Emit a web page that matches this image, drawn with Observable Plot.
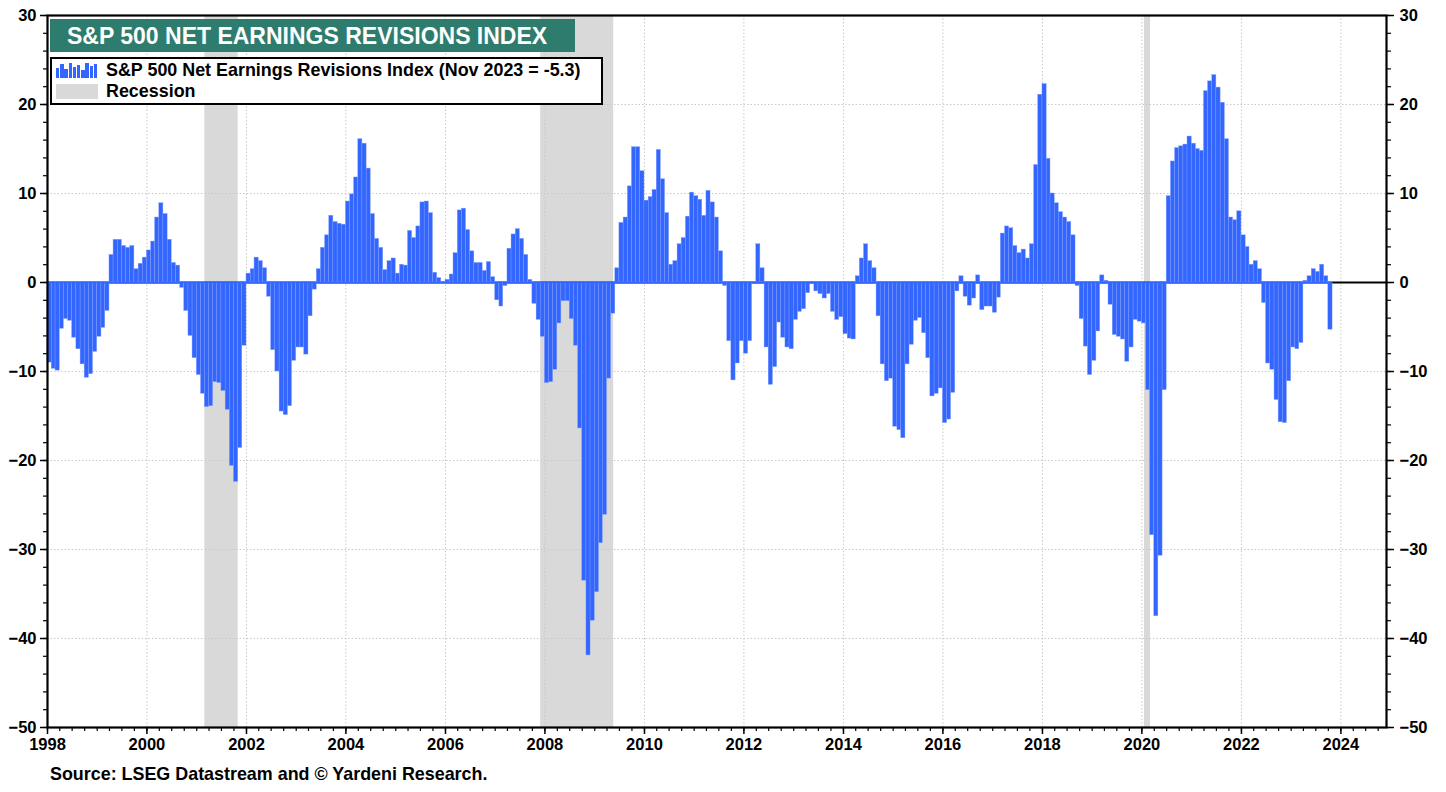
<!DOCTYPE html>
<html>
<head>
<meta charset="utf-8">
<script src="https://cdn.jsdelivr.net/npm/d3@7"></script>
<script src="https://cdn.jsdelivr.net/npm/@observablehq/plot@0.6"></script>
<style>
  body { margin: 0; background: #fff; font-family: "Liberation Sans", Arial, sans-serif; }
  #wrap { position: relative; width: 1446px; height: 792px; overflow: hidden; }
  #title { position: absolute; left: 50px; top: 19px; width: 525px; height: 33px; background: #2e7c6d;
           color: #fff; font-weight: bold; font-size: 23px; line-height: 34px; padding-left: 17px; box-sizing: border-box; white-space: nowrap; }
  #legend { position: absolute; left: 50px; top: 57px; width: 553px; height: 48px; border: 2px solid #000;
            background: #fff; box-sizing: border-box; font-weight: bold; font-size: 17.9px; color: #000; }
  .lrow { position: absolute; left: 4px; height: 20px; display: flex; align-items: center; white-space: nowrap; }
  .icon { width: 42px; height: 15px; margin-right: 8px; position: relative; }
  #source { position: absolute; left: 50px; top: 764px; font-weight: bold; font-size: 17.9px; color: #000; white-space: nowrap; }
</style>
</head>
<body>
<div id="wrap">
  <div id="chart"></div>
  <div id="title"></div>
  <div id="legend">
    <div class="lrow" style="top:1px"><div class="icon" id="baricon"></div><span id="lab1"></span></div>
    <div class="lrow" style="top:22px"><div class="icon" style="background:#d9d9d9"></div><span id="lab2"></span></div>
  </div>
  <div id="source"></div>
</div>
<script>
// ---- Data: S&P 500 Net Earnings Revisions Index, monthly bars (Jan..Dec) ----
const v1998 = [-9.0,-9.7,-9.9,-5.2,-4.1,-4.3,-6.2,-7.5,-9.2,-10.7,-10.3,-7.8];
const v1999 = [-6.1,-5.1,-3.2,3.1,4.8,4.8,4.1,3.9,4.1,1.5,2.1,2.8];
const v2000 = [3.6,4.6,7.3,8.9,7.7,4.8,2.2,1.9,-0.6,-3.2,-6.0,-8.5];
const v2001 = [-10.4,-12.5,-14.0,-13.9,-11.2,-11.3,-12.2,-14.3,-20.6,-22.4,-18.6,-7.1];
const v2002 = [1.0,1.5,2.8,2.4,1.6,-1.6,-7.6,-10.0,-14.5,-14.9,-13.9,-8.8];
const v2003 = [-7.3,-7.3,-8.1,-3.8,-0.8,1.5,3.9,5.3,7.5,6.8,6.6,6.5];
const v2004 = [9.1,9.9,11.8,16.1,15.6,12.8,7.7,4.9,3.9,1.4,2.4,2.7];
const v2005 = [1.0,2.0,1.9,5.8,5.0,6.3,9.0,9.1,7.8,1.1,0.5,-0.2];
const v2006 = [0.3,0.9,3.3,8.1,8.3,5.9,3.5,2.2,2.2,1.3,2.3,0.6];
const v2007 = [-2.0,-2.7,-0.4,3.8,5.4,6.0,4.9,3.1,0.3,-2.4,-4.2,-6.1];
const v2008 = [-11.3,-11.2,-9.8,-4.6,-2.1,-2.1,-4.1,-7.1,-16.4,-33.5,-41.9,-38.0];
const v2009 = [-34.8,-29.3,-26.1,-10.8,-3.5,1.6,6.7,7.3,10.8,15.2,15.2,12.5];
const v2010 = [9.2,9.6,10.4,14.9,11.6,7.8,2.0,2.4,4.3,5.0,7.4,10.1];
const v2011 = [9.7,9.3,7.5,10.3,9.0,7.3,3.5,-0.4,-6.6,-11.0,-9.1,-6.6];
const v2012 = [-8.0,-6.6,-0.2,4.3,1.6,-7.3,-11.5,-9.5,-4.5,-6.2,-7.3,-7.5];
const v2013 = [-4.2,-3.3,-3.0,-1.2,-0.1,-1.0,-1.3,-1.8,-1.3,-3.3,-4.2,-3.9];
const v2014 = [-5.8,-6.3,-6.4,0.7,2.7,4.3,2.4,1.6,-3.8,-9.2,-11.1,-10.8];
const v2015 = [-16.2,-16.6,-17.5,-9.2,-7.0,-4.3,-4.0,-5.7,-8.5,-12.8,-12.5,-11.9];
const v2016 = [-15.8,-15.4,-12.4,-1.0,0.7,-1.6,-2.6,-1.8,0.8,-3.1,-2.7,-2.7];
const v2017 = [-3.4,-1.7,5.5,6.3,6.1,4.1,3.3,3.7,2.7,4.3,13.2,21.1];
const v2018 = [22.3,13.9,10.0,8.9,7.9,7.3,6.8,5.3,-0.4,-4.1,-7.2,-10.4];
const v2019 = [-8.8,-5.5,0.8,0.2,-2.5,-5.9,-6.1,-6.4,-8.9,-7.3,-4.2,-4.4];
const v2020 = [-4.6,-12.1,-28.4,-37.5,-30.7,-12.1,9.7,13.6,15.1,15.3,15.5,16.4];
const v2021 = [15.6,15.0,14.8,21.5,22.6,23.3,21.9,20.2,16.1,7.3,7.0,8.0];
const v2022 = [5.3,4.0,2.0,2.4,1.5,-2.3,-9.1,-9.8,-13.2,-15.7,-15.8,-11.1];
const v2023 = [-7.3,-7.5,-6.8,0.2,0.7,1.5,1.2,2.0,0.7,-5.3];
const firstYear = 1998;
const yearArrays = [v1998,v1999,v2000,v2001,v2002,v2003,v2004,v2005,v2006,v2007,v2008,v2009,v2010,
                    v2011,v2012,v2013,v2014,v2015,v2016,v2017,v2018,v2019,v2020,v2021,v2022,v2023];

// Recession shading (as placed in the picture)
const recessionStart = ["2001-03-01","2007-12-01","2020-01-20"];
const recessionEnd   = ["2001-11-01","2009-05-20","2020-03-05"];

// Axis ticks / labels
const yMajorTicks = [-50,-40,-30,-20,-10,0,10,20,30];
const yGridTicks = [-40,-30,-20,-10,10,20];
const xDomain = ["1998-01-01","2024-12-01"];

const titleText = "S&P 500 NET EARNINGS REVISIONS INDEX";
const seriesLabel = "S&P 500 Net Earnings Revisions Index (Nov 2023 = -5.3)";
const recessionLabel = "Recession";
const sourceText = "Source: LSEG Datastream and © Yardeni Research.";

// ---- Build table ----
const data = [];
yearArrays.forEach((arr, k) => arr.forEach((v, m) => data.push({date: new Date(Date.UTC(firstYear + k, m, 1)), value: v})));
const recessions = recessionStart.map((s, i) => ({start: new Date(s), end: new Date(recessionEnd[i])}));
const x0 = new Date(xDomain[0]), x1 = new Date(xDomain[1]);
const evenYears = d3.utcYear.every(2).range(x0, d3.utcDay.offset(x1, 1));
const quarters = d3.utcMonth.every(3).range(x0, d3.utcDay.offset(x1, 1));
const yMinor = d3.range(yMajorTicks[0], yMajorTicks[yMajorTicks.length - 1] + 1, 2);
const lastEnd = d3.utcMonth.offset(data[data.length - 1].date, 1);

const blue = "#3366ff";
const fontSize = 16.5;

const chart = Plot.plot({
  width: 1446,
  height: 792,
  marginLeft: 47,
  marginRight: 60,
  marginTop: 15,
  marginBottom: 65,
  style: {fontFamily: "'Liberation Sans', Arial, sans-serif", fontSize: fontSize + "px", fontWeight: "bold", color: "#000", background: "#fff"},
  x: {type: "utc", domain: [x0, x1], label: null},
  y: {domain: [yMajorTicks[0], yMajorTicks[yMajorTicks.length - 1]], label: null},
  marks: [
    Plot.rect(recessions, {x1: "start", x2: "end", fill: "#d9d9d9"}),
    Plot.ruleX(evenYears.slice(1), {stroke: "#c8c8c8", strokeDasharray: "1.5,2", strokeWidth: 1}),
    Plot.ruleY(yGridTicks, {stroke: "#c8c8c8", strokeDasharray: "1.5,2", strokeWidth: 1}),
    Plot.ruleY([0], {stroke: "#000", strokeWidth: 2}),
    Plot.rectY(data, {x1: "date", x2: d => d3.utcMonth.offset(d.date, 1), y: "value", fill: blue, stroke: "#7f9dff", strokeWidth: 0.4}),
    Plot.ruleY([0], {x1: data[0].date, x2: lastEnd, stroke: blue, strokeWidth: 1}),
    // y axes (left and right)
    Plot.axisY(yMinor, {anchor: "left", tickSize: 4, tickFormat: () => "", label: null, strokeWidth: 1.2}),
    Plot.axisY(yMajorTicks, {anchor: "left", tickSize: 7, tickPadding: 4, fontSize, fontWeight: "bold", label: null, strokeWidth: 1.5}),
    Plot.axisY(yMinor, {anchor: "right", tickSize: 4, tickFormat: () => "", label: null, strokeWidth: 1.2}),
    Plot.axisY(yMajorTicks, {anchor: "right", tickSize: 7, tickPadding: 6, fontSize, fontWeight: "bold", label: null, strokeWidth: 1.5}),
    // x axis
    Plot.axisX(quarters, {anchor: "bottom", tickSize: 4, tickFormat: () => "", label: null, strokeWidth: 1.2}),
    Plot.axisX(evenYears, {anchor: "bottom", tickSize: 7, tickPadding: 4, tickFormat: "%Y", fontSize, fontWeight: "bold", label: null, strokeWidth: 1.5}),
    Plot.frame({stroke: "#000", strokeWidth: 2.2})
  ]
});
document.getElementById("chart").appendChild(chart);

// Title, legend, source
document.getElementById("title").textContent = titleText;
document.getElementById("lab1").textContent = seriesLabel;
document.getElementById("lab2").textContent = recessionLabel;
document.getElementById("source").textContent = sourceText;
const icon = document.getElementById("baricon");
const iconHeights = [10, 14, 9, 15, 11, 13, 8, 15, 12, 14];
iconHeights.forEach((h, i) => {
  const b = document.createElement("div");
  b.style.cssText = `position:absolute;bottom:0;left:${i * 4.2}px;width:3.4px;height:${h}px;background:${blue}`;
  icon.appendChild(b);
});
</script>
</body>
</html>
